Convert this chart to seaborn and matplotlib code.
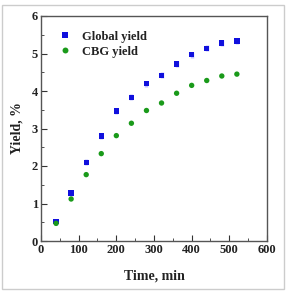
import numpy as np
import pandas as pd
import matplotlib
matplotlib.use("Agg")
import matplotlib.pyplot as plt
import seaborn as sns
from matplotlib.patches import Rectangle
from matplotlib.ticker import MultipleLocator

time_min = [40, 80, 120, 160, 200, 240, 280, 320, 360, 400, 440, 480, 520]
global_yield = [0.52, 1.28, 2.10, 2.80, 3.47, 3.83, 4.20, 4.42, 4.72, 4.97, 5.14, 5.28, 5.33]
cbg_yield = [0.47, 1.12, 1.77, 2.33, 2.81, 3.14, 3.48, 3.68, 3.94, 4.15, 4.28, 4.40, 4.45]
global_err = [0.08] * 13

sns.set_theme(style="white")
plt.rcParams['font.family'] = ['Liberation Serif', 'DejaVu Serif']

fig = plt.figure(figsize=(3.0, 2.92), dpi=100)
ax = fig.add_axes([41/300, 1-241/292, 226/300, 225/292])

ax.errorbar(time_min, global_yield, yerr=global_err, fmt='none', ecolor='#9999ff',
            elinewidth=2.5, capsize=0, alpha=0.6, zorder=2)
df = pd.DataFrame({"t": time_min + time_min,
                   "y": global_yield + cbg_yield,
                   "s": ["Global yield"] * 13 + ["CBG yield"] * 13})
sns.scatterplot(data=df, x="t", y="y", hue="s", style="s",
                markers={"Global yield": "s", "CBG yield": "o"},
                palette={"Global yield": "#1010dd", "CBG yield": "#1a9a1a"},
                s=15, edgecolor='none', ax=ax, zorder=3)

ax.set_xlim(0, 600)
ax.set_ylim(0, 6)
ax.xaxis.set_major_locator(MultipleLocator(100))
ax.xaxis.set_minor_locator(MultipleLocator(50))
ax.yaxis.set_major_locator(MultipleLocator(1))
ax.yaxis.set_minor_locator(MultipleLocator(0.5))
ax.tick_params(which='both', direction='in', top=False, right=False, bottom=True, left=True,
               labelsize=9, pad=2, colors='#333333')
ax.tick_params(which='major', length=4, width=0.8)
ax.tick_params(which='minor', length=2, width=0.6)
for lab in ax.get_xticklabels() + ax.get_yticklabels():
    lab.set_fontweight('bold')
    lab.set_color('#222222')
for sp in ax.spines.values():
    sp.set_color('#555555')
    sp.set_linewidth(1.0)
ax.set_xlabel("Time, min", fontsize=10, fontweight='bold', color='#222222', labelpad=10)
ax.set_ylabel("Yield, %", fontsize=10, fontweight='bold', color='#222222', labelpad=6)

leg = ax.legend(loc='upper left', bbox_to_anchor=(0.0, 0.985), frameon=False,
                prop={'weight': 'bold', 'size': 9}, handletextpad=0.4,
                labelspacing=0.25, markerscale=1.1)
for t in leg.get_texts():
    t.set_color('#222222')

fig.patches.append(Rectangle((2/300, 3/292), 282/300, 284/292, transform=fig.transFigure,
                             fill=False, edgecolor='#cccccc', linewidth=1.0))

fig.savefig("out.png", dpi=100)
